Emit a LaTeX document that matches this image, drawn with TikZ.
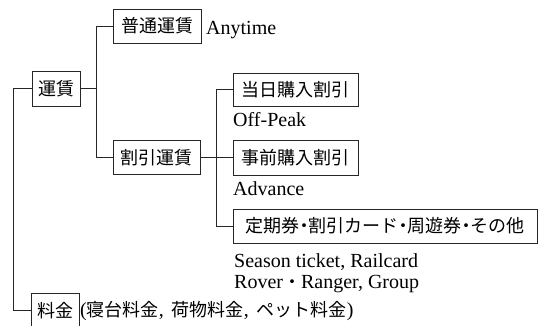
\documentclass[tikz,border=0pt]{standalone}
\usepackage{fontspec}
\setmainfont{Liberation Serif}
\newfontfamily\cjk{Noto Sans CJK JP}
\newcommand\jptext[1]{{\cjk\fontsize{18}{20}\selectfont #1}}
\newcommand\nkg{\hspace{-4.5pt}・\hspace{-4.5pt}}
\begin{document}
\begin{tikzpicture}[x=1pt,y=-1pt,
  box/.style={draw=black!85, line width=1pt, inner sep=0pt, minimum height=34pt,
    font=\cjk\fontsize{18}{20}\selectfont},
  lbl/.style={inner sep=0pt, anchor=base west, font=\fontsize{20}{22}\selectfont},
  conn/.style={draw=black!85, line width=1pt}]
\clip (0,0) rectangle (540,325);
% boxes
\node[box, minimum width=48pt, minimum height=35pt] (unchin) at (56,88.5) {運賃};
\node[box, minimum width=88pt] (futsu) at (157,26) {普通運賃};
\node[box, minimum width=87pt] (waribiki) at (156.5,157.5) {割引運賃};
\node[box, minimum width=125pt, minimum height=33pt] (toujitsu) at (295.5,89.5) {当日購入割引};
\node[box, minimum width=125pt, minimum height=35pt] (jizen) at (295.5,157.5) {事前購入割引};
\node[box, minimum width=304pt] (teiki) at (385,226) {定期券\nkg 割引カード\nkg 周遊券\nkg その他};
\node[box, minimum width=48pt, minimum height=35pt] (ryokin) at (55,310.5) {料金};
% labels
\node[lbl] (anytime) at (206,34) {Anytime};
\node[lbl] (offpeak) at (233,126) {Off-Peak};
\node[lbl] (advance) at (233,195) {Advance};
\node[lbl] (season) at (234,267) {Season ticket, Railcard};
\node[lbl] (rover) at (234,288) {Rover\jptext{・}Ranger, Group};
\node[inner sep=0pt, anchor=west, font=\fontsize{20}{22}\selectfont] (ryodet) at (80,311)
  {(\jptext{寝台料金},\hspace{8pt}\jptext{荷物料金},\hspace{8pt}\jptext{ペット料金})};
% trunks
\coordinate (trunkA) at (13,0);
\coordinate (trunkB) at (96.7,0);
\coordinate (trunkC) at (216,0);
\draw[conn] (unchin.west) -- (unchin.west -| trunkA) -- (trunkA |- ryokin.west) -- (ryokin.west);
\draw[conn] (unchin.east) -- (unchin.east -| trunkB);
\draw[conn] (futsu.west) -- (futsu.west -| trunkB) -- (trunkB |- waribiki.west) -- (waribiki.west);
\draw[conn] (waribiki.east) -- (jizen.west);
\draw[conn] (toujitsu.west) -- (toujitsu.west -| trunkC) -- (trunkC |- teiki.west) -- (teiki.west);
\end{tikzpicture}
\end{document}
